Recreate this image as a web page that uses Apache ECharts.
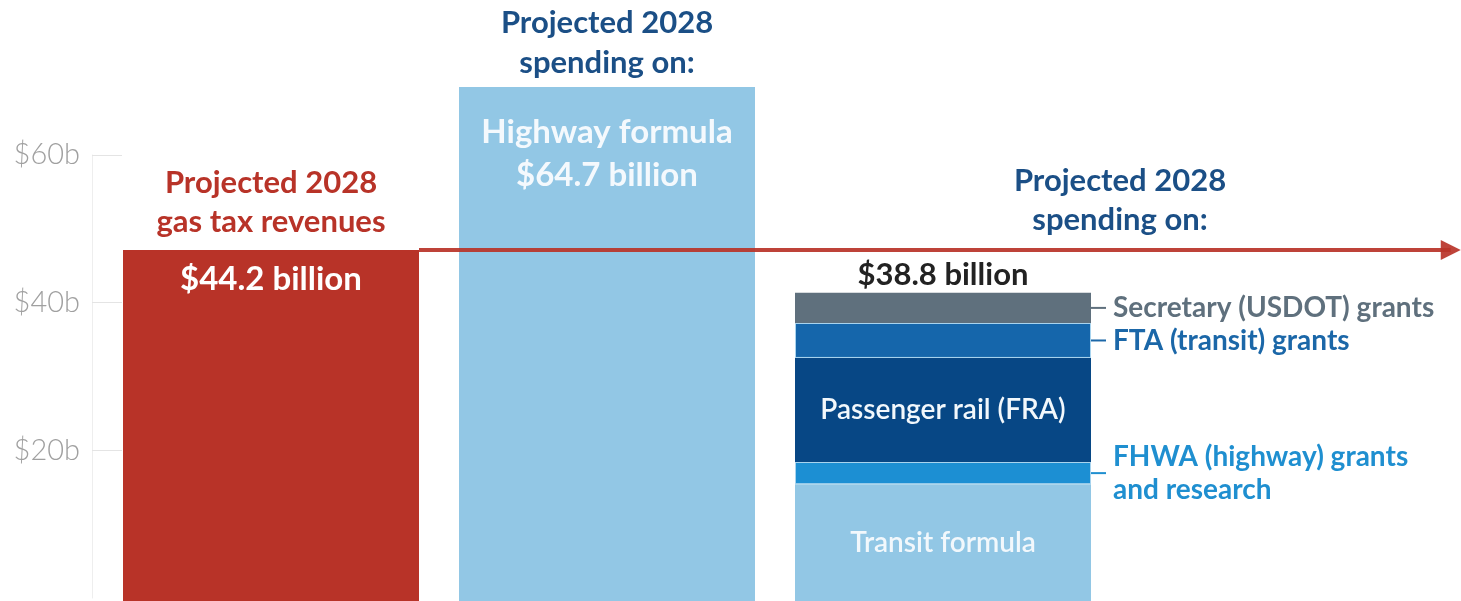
<!DOCTYPE html>
<html>
<head>
<meta charset="utf-8">
<script src="https://cdn.jsdelivr.net/npm/echarts@6/dist/echarts.min.js"></script>
<style>
  html, body { margin: 0; padding: 0; background: #fff; }
  #chart { width: 1461px; height: 601px; }
</style>
</head>
<body>
<div id="chart"></div>
<script>
// categories (one bar each)
const categories = ['Gas tax revenues', 'Highway formula', 'Other programs']

// values in $ billions
const gasTaxRevenue = 44.2
const highwayFormula = 64.7
const otherTotalLabel = '$38.8 billion'

// stacked pieces of the third bar, bottom to top
const stackNames = ['Transit formula', 'FHWA (highway) grants\nand research', 'Passenger rail (FRA)', 'FTA (transit) grants', 'Secretary (USDOT) grants']
const stackValues = [14.7, 2.8, 13.1, 4.4, 3.8]

// tick labels of the drawn axis
const tickValues = [20, 40, 60]

const FONT = 'Lato, "Open Sans", sans-serif'
const RED = '#b83328'
const LIGHT = '#92c7e5'
const TITLE_BLUE = '#1b4f86'
const BAR_WIDTH = 296

const stackColors = [LIGHT, '#1c8fd3', '#074785', '#1566ab', '#5f707d']
const sideTextColors = [null, '#1f8fd0', null, '#1b67a8', '#5f707d']

let myChart = echarts.init(document.getElementById('chart'))

function onlyAt(idx, v) {
  return categories.map((c, i) => (i === idx ? v : '-'))
}

const otherTotal = stackValues.reduce((a, b) => a + b, 0)

// side label: a short dash then the text, dash kept at the middle of the block
function sideFormatter(name) {
  const lines = name.split('\n')
  if (lines.length === 1) return '{d| }{t|' + name + '}'
  return '{sp| }{t|' + lines[0] + '}\n{d| }\n{sp| }{t|' + lines[1] + '}'
}

const stackSeries = stackValues.map((v, i) => {
  const side = sideTextColors[i] != null
  return {
    name: stackNames[i],
    type: 'bar',
    stack: 'all',
    barWidth: BAR_WIDTH,
    data: onlyAt(2, v),
    itemStyle: {
      color: stackColors[i],
      borderColor: (i === 1 || i === 3) ? '#a8d4ef' : stackColors[i],
      borderWidth: (i === 1 || i === 3) ? 1 : 0
    },
    label: side ? {
      show: true,
      position: 'right',
      distance: 0,
      formatter: sideFormatter(stackNames[i]),
      rich: {
        d: { width: 15, height: 2, lineHeight: 2, backgroundColor: sideTextColors[i] },
        sp: { width: 15 },
        t: {
          color: sideTextColors[i],
          fontFamily: FONT,
          fontWeight: 'bold',
          fontSize: 28,
          lineHeight: 31,
          padding: [0, 0, 0, 7]
        }
      }
    } : {
      show: true,
      position: 'inside',
      formatter: stackNames[i],
      color: '#f2f8fc',
      fontFamily: FONT,
      fontWeight: 600,
      fontSize: 28
    },
    markPoint: i === 4 ? {
      symbol: 'circle',
      symbolSize: 1,
      itemStyle: { color: 'rgba(0,0,0,0)' },
      silent: true,
      data: [{ coord: [categories[2], otherTotal] }],
      label: {
        show: true,
        position: 'top',
        distance: 2,
        formatter: otherTotalLabel,
        color: '#222',
        fontFamily: FONT,
        fontWeight: 'bold',
        fontSize: 31
      }
    } : undefined
  }
})

const option = {
  animation: false,
  backgroundColor: '#fff',
  grid: [
    { left: 103, right: 350, top: 45, bottom: 0 },
    { left: 92, width: 30, top: 155, bottom: 3 }
  ],
  xAxis: [
    { type: 'category', data: categories, gridIndex: 0, show: false },
    { type: 'value', gridIndex: 1, show: false }
  ],
  yAxis: [
    { type: 'value', gridIndex: 0, min: 0, max: 70, show: false },
    {
      type: 'value',
      gridIndex: 1,
      min: 0,
      max: 60,
      interval: 20,
      axisLine: { show: true, lineStyle: { color: '#eeeeee', width: 1 } },
      axisTick: { show: true, inside: true, length: 30, customValues: tickValues, lineStyle: { color: '#e4e4e4' } },
      splitLine: { show: false },
      axisLabel: {
        customValues: tickValues,
        formatter: v => '$' + v + 'b',
        margin: 12,
        color: '#a0a0a0',
        fontFamily: FONT,
        fontWeight: 300,
        fontSize: 29
      }
    }
  ],
  graphic: [{
    type: 'text',
    x: 1120,
    y: 161,
    style: {
      text: 'Projected 2028\nspending on:',
      fill: TITLE_BLUE,
      font: 'bold 31px ' + FONT,
      lineHeight: 39,
      align: 'center',
      verticalAlign: 'top'
    }
  }],
  series: [
    {
      name: categories[0],
      type: 'bar',
      stack: 'all',
      barWidth: BAR_WIDTH,
      data: onlyAt(0, gasTaxRevenue),
      itemStyle: { color: RED },
      label: {
        show: true,
        position: 'insideTop',
        distance: 13,
        formatter: '$' + gasTaxRevenue + ' billion',
        color: '#fff',
        fontFamily: FONT,
        fontWeight: 'bold',
        fontSize: 33
      },
      markPoint: {
        symbol: 'circle',
        symbolSize: 1,
        itemStyle: { color: 'rgba(0,0,0,0)' },
        silent: true,
        data: [{ coord: [categories[0], gasTaxRevenue] }],
        label: {
          show: true,
          position: 'top',
          distance: 8,
          formatter: 'Projected 2028\ngas tax revenues',
          color: RED,
          fontFamily: FONT,
          fontWeight: 'bold',
          fontSize: 31,
          lineHeight: 39
        }
      }
    },
    {
      name: categories[1],
      type: 'bar',
      stack: 'all',
      barWidth: BAR_WIDTH,
      data: onlyAt(1, highwayFormula),
      itemStyle: { color: LIGHT },
      label: {
        show: true,
        position: 'insideTop',
        distance: 24,
        formatter: 'Highway formula\n$' + highwayFormula + ' billion',
        color: '#f4f9fd',
        fontFamily: FONT,
        fontWeight: 'bold',
        fontSize: 33,
        lineHeight: 43
      },
      markPoint: {
        symbol: 'circle',
        symbolSize: 1,
        itemStyle: { color: 'rgba(0,0,0,0)' },
        silent: true,
        data: [{ coord: [categories[1], highwayFormula] }],
        label: {
          show: true,
          position: 'top',
          distance: 4,
          formatter: 'Projected 2028\nspending on:',
          color: TITLE_BLUE,
          fontFamily: FONT,
          fontWeight: 'bold',
          fontSize: 31,
          lineHeight: 40
        }
      }
    }
  ].concat(stackSeries)
}

myChart.setOption(option)

// revenue arrow: starts at the right edge of the revenue bar, runs to the page edge
const revenueBarRight = myChart.convertToPixel({ xAxisIndex: 0 }, categories[0]) + BAR_WIDTH / 2
myChart.setOption({
  series: [{
    name: categories[0],
    markLine: {
      silent: true,
      symbol: ['none', 'triangle'],
      symbolSize: 20,
      label: { show: false },
      lineStyle: { color: RED, width: 4, type: 'solid', opacity: 0.92 },
      data: [[
        { coord: [categories[0], gasTaxRevenue], x: revenueBarRight },
        { coord: [categories[2], gasTaxRevenue], x: '99.3%' }
      ]]
    }
  }]
})

window.onresize = function() {
  myChart.resize()
}
</script>
</body>
</html>
